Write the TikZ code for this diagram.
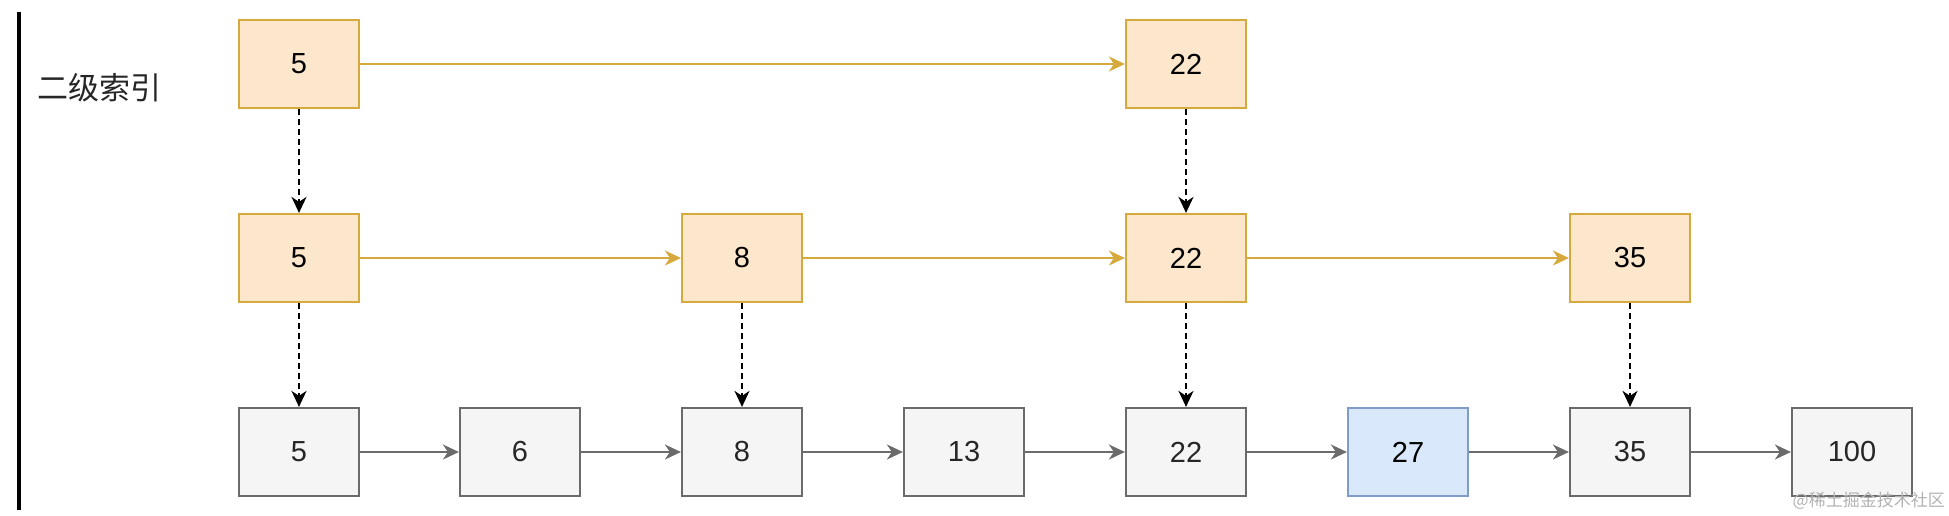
\documentclass[tikz,border=0pt]{standalone}
\usepackage{fontspec}
\setmainfont{Liberation Sans}
\newfontfamily\cjk{Noto Sans CJK SC}
\usetikzlibrary{arrows.meta}
\definecolor{idxfill}{HTML}{FCE7CD}
\definecolor{idxline}{HTML}{D6A93C}
\definecolor{grayfill}{HTML}{F5F5F5}
\definecolor{grayline}{HTML}{6B6B6B}
\definecolor{bluefill}{HTML}{DAE8FC}
\definecolor{blueline}{HTML}{7F9CCB}
\begin{document}
\begin{tikzpicture}[x=1pt,y=-1pt,
  box/.style={rectangle, minimum width=120pt, minimum height=88pt, line width=2.2pt, inner sep=0pt,
    font=\fontsize{29}{32}\selectfont},
  idx/.style={box, fill=idxfill, draw=idxline},
  dat/.style={box, fill=grayfill, draw=grayline, text=black!85},
  hit/.style={box, fill=bluefill, draw=blueline},
  tip/.style={-{Stealth[length=16pt,width=15pt,inset=5pt]}},
  idxarrow/.style={tip, draw=idxline, line width=2.2pt},
  datarrow/.style={tip, draw=grayline, line width=2.2pt},
  downarrow/.style={tip, draw=black, line width=2.2pt, dash pattern=on 6pt off 4pt}]
\useasboundingbox (0,0) rectangle (1949,515);
\fill[black] (16.5,12) rectangle (20.5,510);
\node[font=\cjk\fontsize{31}{34}\selectfont, text=black!85] (lbl) at (99,88) {二级索引};
% level 2 index
\node[idx] (a5) at (299,64) {5};
\node[idx] (a22) at (1186,64) {22};
% level 1 index
\node[idx] (b5) at (299,258) {5};
\node[idx] (b8) at (742,258) {8};
\node[idx] (b22) at (1186,258) {22};
\node[idx] (b35) at (1630,258) {35};
% data
\node[dat] (c5) at (299,452) {5};
\node[dat] (c6) at (520,452) {6};
\node[dat] (c8) at (742,452) {8};
\node[dat] (c13) at (964,452) {13};
\node[dat] (c22) at (1186,452) {22};
\node[hit] (c27) at (1408,452) {27};
\node[dat] (c35) at (1630,452) {35};
\node[dat] (c100) at (1852,452) {100};
% horizontal
\draw[idxarrow] (a5) -- (a22);
\draw[idxarrow] (b5) -- (b8);
\draw[idxarrow] (b8) -- (b22);
\draw[idxarrow] (b22) -- (b35);
\draw[datarrow] (c5) -- (c6);
\draw[datarrow] (c6) -- (c8);
\draw[datarrow] (c8) -- (c13);
\draw[datarrow] (c13) -- (c22);
\draw[datarrow] (c22) -- (c27);
\draw[datarrow] (c27) -- (c35);
\draw[datarrow] (c35) -- (c100);
% vertical
\draw[downarrow] (a5) -- (b5);
\draw[downarrow] (a22) -- (b22);
\draw[downarrow] (b5) -- (c5);
\draw[downarrow] (b8) -- (c8);
\draw[downarrow] (b22) -- (c22);
\draw[downarrow] (b35) -- (c35);
% watermark
\node[font=\cjk\fontsize{17}{19}\selectfont, text=black!30, anchor=south east, inner sep=0pt] (wm) at (1945,510) {@稀土掘金技术社区};
\end{tikzpicture}
\end{document}
